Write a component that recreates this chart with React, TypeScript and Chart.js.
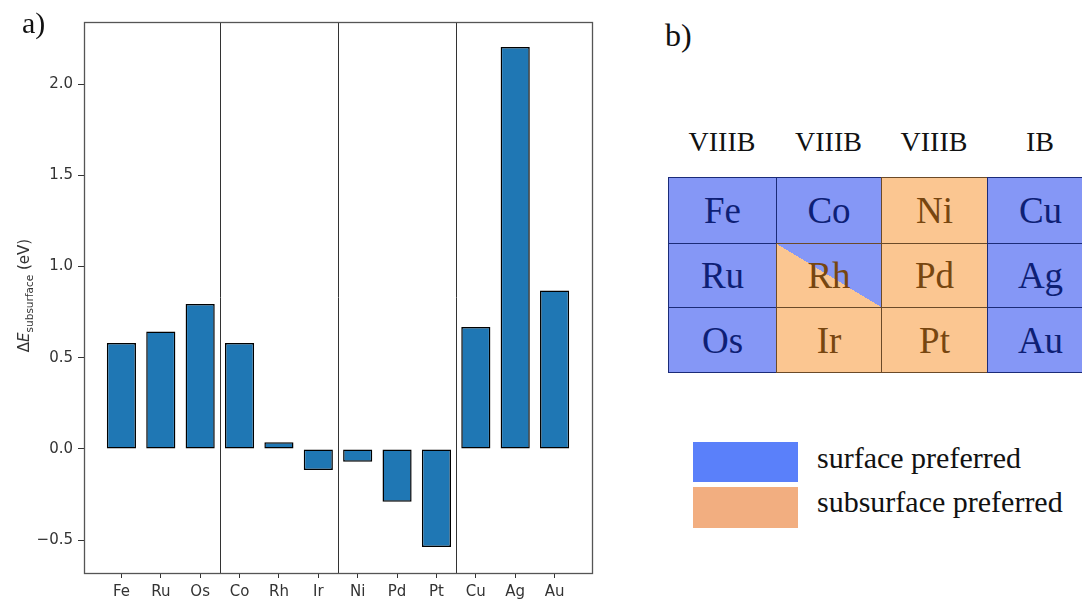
import React, { useEffect, useRef } from "react";
import { Chart, registerables } from "chart.js";

Chart.register(...registerables);

// ---- panel a) data ----
const elements = ["Fe", "Ru", "Os", "Co", "Rh", "Ir", "Ni", "Pd", "Pt", "Cu", "Ag", "Au"];
const deltaE = [0.58, 0.643, 0.795, 0.58, 0.037, -0.115, -0.07, -0.29, -0.538, 0.668, 2.203, 0.869];
const yTickValues = [-0.5, 0.0, 0.5, 1.0, 1.5, 2.0];
const groupSeparators = [2.5, 5.5, 8.5];
const xLimits = [-0.95, 11.95];
const yLimits = [-0.68, 2.34];

// ---- panel b) data ----
const groupHeaders = ["VIIIB", "VIIIB", "VIIIB", "IB"];
const tableRows = [
  ["Fe", "Co", "Ni", "Cu"],
  ["Ru", "Rh", "Pd", "Ag"],
  ["Os", "Ir", "Pt", "Au"],
];
// s = surface preferred, u = subsurface preferred, m = mixed
const preference = [
  ["s", "s", "u", "s"],
  ["s", "m", "u", "s"],
  ["s", "u", "u", "s"],
];
const legendLabels = ["surface preferred", "subsurface preferred"];

const BAR_COLOR = "#1f77b4";
const CELL_BLUE = "#8597f6";
const CELL_ORANGE = "#fbc691";
const LEGEND_BLUE = "#5a80fa";
const LEGEND_ORANGE = "#f2ae80";
const TEXT_BLUE = "#0e1f75";
const TEXT_BROWN = "#774610";

const colLefts = [668, 776, 881, 987, 1093];
const rowTops = [177, 243, 307, 372];

const framePlugin = {
  id: "frameAndSeparators",
  beforeDatasetsDraw(chart: any) {
    const { ctx, chartArea, scales } = chart;
    ctx.save();
    ctx.strokeStyle = "#333";
    ctx.lineWidth = 1;
    groupSeparators.forEach((v) => {
      const x = Math.round(scales.x.getPixelForValue(v)) + 0.5;
      ctx.beginPath();
      ctx.moveTo(x, chartArea.top);
      ctx.lineTo(x, chartArea.bottom);
      ctx.stroke();
    });
    ctx.restore();
  },
  afterDraw(chart: any) {
    const { ctx, chartArea } = chart;
    ctx.save();
    ctx.strokeStyle = "#555";
    ctx.lineWidth = 1.3;
    ctx.strokeRect(
      Math.round(chartArea.left) + 0.5,
      Math.round(chartArea.top) + 0.5,
      Math.round(chartArea.right - chartArea.left),
      Math.round(chartArea.bottom - chartArea.top)
    );
    // y axis title: ΔE_subsurface (eV)
    const cy = (chartArea.top + chartArea.bottom) / 2 - 2;
    ctx.translate(29, cy);
    ctx.rotate(-Math.PI / 2);
    ctx.fillStyle = "#333";
    ctx.textBaseline = "alphabetic";
    ctx.textAlign = "left";
    const parts = [
      { t: "Δ", f: '15px "DejaVu Sans"', dy: 0 },
      { t: "E", f: 'italic 15px "DejaVu Sans"', dy: 0 },
      { t: "subsurface", f: '10.5px "DejaVu Sans"', dy: 3.5 },
      { t: " (eV)", f: '15px "DejaVu Sans"', dy: 0 },
    ];
    let total = 0;
    const widths = parts.map((p) => {
      ctx.font = p.f;
      const w = ctx.measureText(p.t).width;
      total += w;
      return w;
    });
    let x = -total / 2;
    parts.forEach((p, i) => {
      ctx.font = p.f;
      ctx.fillText(p.t, x, p.dy);
      x += widths[i];
    });
    ctx.restore();
  },
};

function BarPanel() {
  const ref = useRef<HTMLCanvasElement | null>(null);
  useEffect(() => {
    if (!ref.current) return;
    const chart = new Chart(ref.current, {
      type: "bar",
      data: {
        datasets: [
          {
            data: elements.map((_, i) => ({ x: i, y: deltaE[i] })),
            backgroundColor: BAR_COLOR,
            borderColor: "#000",
            borderWidth: 1.5,
            borderSkipped: false,
            barPercentage: 0.74,
            categoryPercentage: 1,
          },
        ],
      },
      options: {
        animation: false,
        responsive: false,
        maintainAspectRatio: false,
        layout: { padding: { left: 0, top: 22, right: 8, bottom: 0 } },
        plugins: { legend: { display: false }, tooltip: { enabled: false } },
        scales: {
          x: {
            type: "linear",
            offset: false,
            min: xLimits[0],
            max: xLimits[1],
            afterBuildTicks: (scale: any) => {
              scale.ticks = elements.map((_, i) => ({ value: i }));
            },
            afterFit: (scale: any) => {
              scale.height = 26;
            },
            ticks: {
              autoSkip: false,
              maxRotation: 0,
              padding: 5,
              color: "#333",
              font: { family: "DejaVu Sans", size: 15 },
              callback: (v: any) => elements[Math.round(Number(v))] ?? "",
            },
            grid: {
              display: true,
              offset: false,
              drawOnChartArea: false,
              drawTicks: true,
              tickLength: 5,
              tickColor: "#333",
            },
            border: { display: false },
          },
          y: {
            type: "linear",
            min: yLimits[0],
            max: yLimits[1],
            afterBuildTicks: (scale: any) => {
              scale.ticks = yTickValues.map((v) => ({ value: v }));
            },
            afterFit: (scale: any) => {
              scale.width = 84;
            },
            ticks: {
              padding: 5,
              color: "#333",
              font: { family: "DejaVu Sans", size: 15 },
              callback: (v: any) => {
                const n = Number(v);
                return n < 0 ? "\u2212" + Math.abs(n).toFixed(1) : n.toFixed(1);
              },
            },
            grid: {
              display: true,
              drawOnChartArea: false,
              drawTicks: true,
              tickLength: 6,
              tickColor: "#333",
            },
            border: { display: false },
          },
        },
      },
      plugins: [framePlugin],
    } as any);
    return () => chart.destroy();
  }, []);
  return (
    <canvas
      ref={ref}
      width={600}
      height={599}
      style={{ position: "absolute", left: 0, top: 0, width: 600, height: 599 }}
    />
  );
}

const serif = '"Liberation Serif", "Times New Roman", serif';

function TablePanel() {
  const cells: React.ReactNode[] = [];
  tableRows.forEach((row, r) => {
    row.forEach((el, c) => {
      const kind = preference[r][c];
      const left = colLefts[c];
      const top = rowTops[r];
      const w = colLefts[c + 1] - left;
      const h = rowTops[r + 1] - top;
      const bg =
        kind === "s"
          ? CELL_BLUE
          : kind === "u"
          ? CELL_ORANGE
          : `linear-gradient(to top right, ${CELL_ORANGE} 50%, ${CELL_BLUE} 50%)`;
      const color = kind === "s" ? TEXT_BLUE : TEXT_BROWN;
      const borderColor = kind === "s" ? "#1b2b78" : "#6b4a28";
      cells.push(
        <div
          key={`${r}-${c}`}
          style={{
            position: "absolute",
            left,
            top,
            width: w + 1,
            height: h + 1,
            boxSizing: "border-box",
            background: bg,
            border: `1px solid ${borderColor}`,
            display: "flex",
            alignItems: "center",
            justifyContent: "center",
            fontFamily: serif,
            fontSize: 37,
            lineHeight: "37px",
            color,
          }}
        >
          {el}
        </div>
      );
    });
  });
  return (
    <>
      {groupHeaders.map((hname, c) => (
        <div
          key={"h" + c}
          style={{
            position: "absolute",
            left: colLefts[c],
            top: 128,
            width: colLefts[c + 1] - colLefts[c],
            textAlign: "center",
            fontFamily: serif,
            fontSize: 28,
            lineHeight: "28px",
            color: "#111",
          }}
        >
          {hname}
        </div>
      ))}
      {cells}
      {legendLabels.map((lab, i) => (
        <React.Fragment key={"l" + i}>
          <div
            style={{
              position: "absolute",
              left: 693,
              top: i === 0 ? 442 : 487,
              width: 105,
              height: i === 0 ? 40 : 41,
              background: i === 0 ? LEGEND_BLUE : LEGEND_ORANGE,
            }}
          />
          <div
            style={{
              position: "absolute",
              left: 817,
              top: i === 0 ? 443 : 487,
              fontFamily: serif,
              fontSize: 30,
              lineHeight: "30px",
              color: "#111",
              whiteSpace: "nowrap",
            }}
          >
            {lab}
          </div>
        </React.Fragment>
      ))}
    </>
  );
}

export default function App() {
  return (
    <div
      style={{
        position: "fixed",
        left: 0,
        top: 0,
        width: 1082,
        height: 599,
        background: "#fff",
        overflow: "hidden",
      }}
    >
      <BarPanel />
      <div
        style={{
          position: "absolute",
          left: 22,
          top: 8,
          fontFamily: serif,
          fontSize: 30,
          lineHeight: "30px",
          color: "#111",
        }}
      >
        a)
      </div>
      <div
        style={{
          position: "absolute",
          left: 665,
          top: 19,
          fontFamily: serif,
          fontSize: 32,
          lineHeight: "32px",
          color: "#111",
        }}
      >
        b)
      </div>
      <TablePanel />
    </div>
  );
}
